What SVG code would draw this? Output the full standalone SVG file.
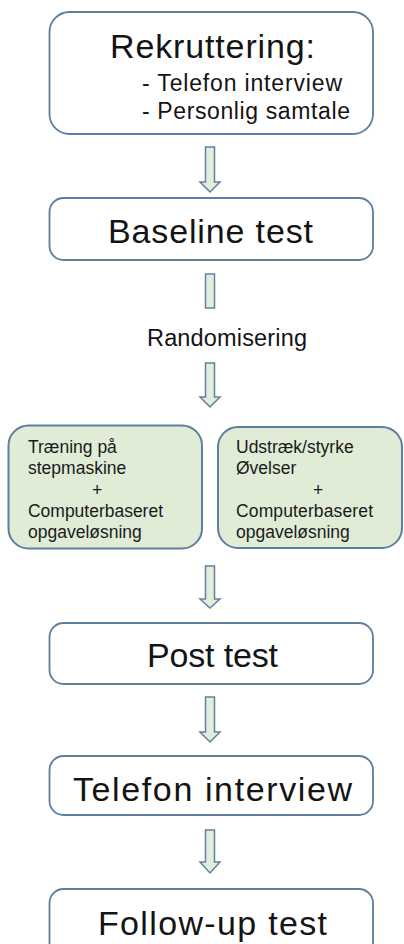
<svg xmlns="http://www.w3.org/2000/svg" width="404" height="944" viewBox="0 0 404 944">
  <style>
    .box { fill: #ffffff; stroke: #5d7f9f; stroke-width: 1.8; }
    .arm { fill: #e0ecd6; stroke: #5d7f9f; stroke-width: 2; }
    .flow { fill: #e2eedc; stroke: #62819f; stroke-width: 1.5; stroke-linejoin: miter; }
    .big { font-family: "Liberation Sans", Arial, sans-serif; font-size: 34px; fill: #141414; }
    .sub { font-family: "Liberation Sans", Arial, sans-serif; font-size: 23px; fill: #141414; }
    .small { font-family: "Liberation Sans", Arial, sans-serif; font-size: 17.5px; fill: #1a1a1a; }
    .mid { text-anchor: middle; }
    .rand { font-family: "Liberation Sans", Arial, sans-serif; font-size: 23.5px; fill: #141414; }
  </style>
  <rect width="404" height="944" fill="#ffffff"/>

  <!-- flow arrows between the steps -->
  <g id="connectors">
    <path class="flow" d="M205.5,147 H214.5 V182 H220 L210,192 L200,182 H205.5 Z"/>
    <rect class="flow" x="205.5" y="274" width="9" height="34"/>
    <path class="flow" d="M205.5,363 H214.5 V397 H220 L210,407 L200,397 H205.5 Z"/>
    <path class="flow" d="M205.5,566 H214.5 V599 H220 L210,608 L200,599 H205.5 Z"/>
    <path class="flow" d="M205.5,697 H214.5 V732 H220 L210,742 L200,732 H205.5 Z"/>
    <path class="flow" d="M205.5,830 H214.5 V862 H220 L210,873 L200,862 H205.5 Z"/>
  </g>

  <g id="rekruttering">
    <rect class="box" x="49.5" y="12" width="323.5" height="122" rx="20"/>
    <text class="big" x="110" y="58" textLength="205">Rekruttering:</text>
    <text class="sub" x="142" y="91" textLength="200">- Telefon interview</text>
    <text class="sub" x="142" y="119" textLength="208">- Personlig samtale</text>
  </g>

  <g id="baseline">
    <rect class="box" x="49.5" y="198" width="323.5" height="62" rx="14"/>
    <text class="big" x="108" y="243" textLength="205">Baseline test</text>
  </g>

  <g id="randomisering">
    <text class="rand" x="147" y="346" textLength="160">Randomisering</text>
  </g>

  <g id="stepmaskine">
    <rect class="arm" x="8.5" y="425.5" width="193.5" height="123" rx="20"/>
    <text class="small" x="28" y="453">Træning på</text>
    <text class="small" x="28" y="474">stepmaskine</text>
    <text class="small mid" x="97" y="496">+</text>
    <text class="small" x="28" y="517" textLength="135">Computerbaseret</text>
    <text class="small" x="28" y="538">opgaveløsning</text>
  </g>

  <g id="udstraek">
    <rect class="arm" x="218" y="427" width="184" height="121" rx="20"/>
    <text class="small" x="236" y="453">Udstræk/styrke</text>
    <text class="small" x="236" y="474">Øvelser</text>
    <text class="small mid" x="318" y="496">+</text>
    <text class="small" x="236" y="517" textLength="137">Computerbaseret</text>
    <text class="small" x="236" y="538">opgaveløsning</text>
  </g>

  <g id="posttest">
    <rect class="box" x="49.5" y="623" width="323.5" height="61" rx="14"/>
    <text class="big" x="147" y="667" textLength="131">Post test</text>
  </g>

  <g id="telefon">
    <rect class="box" x="49.5" y="756" width="323.5" height="59" rx="14"/>
    <text class="big" x="73" y="801" font-size="35" textLength="279">Telefon interview</text>
  </g>

  <g id="followup">
    <rect class="box" x="49.5" y="889" width="323.5" height="80" rx="14"/>
    <text class="big" x="98" y="935" textLength="229">Follow-up test</text>
  </g>
</svg>
